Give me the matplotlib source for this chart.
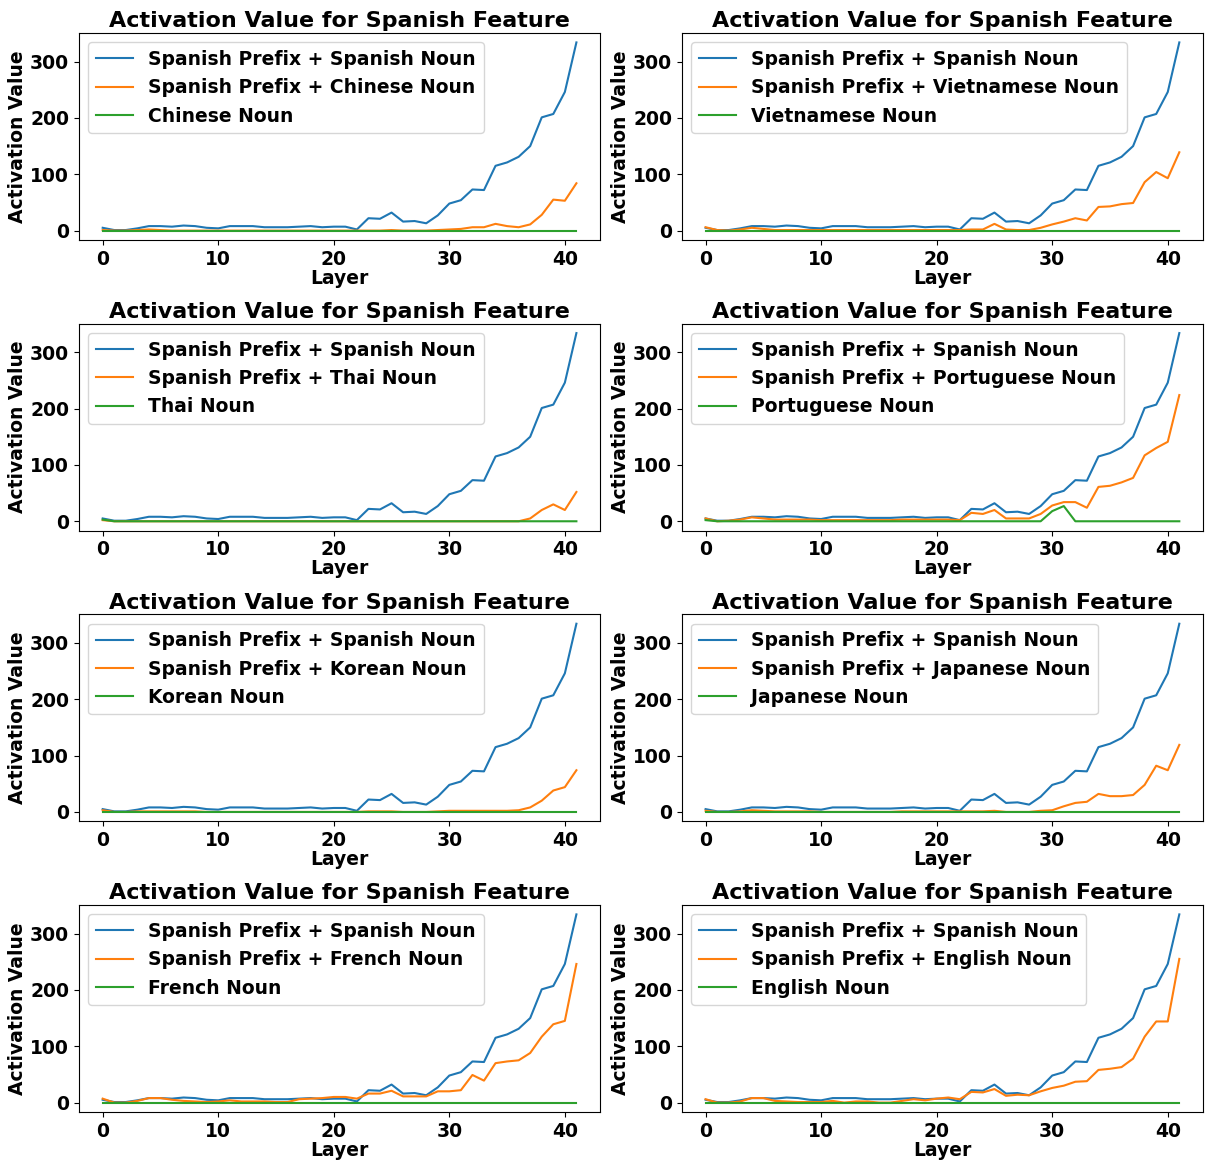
import matplotlib
matplotlib.use("Agg")
import matplotlib.pyplot as plt
import numpy as np

layers = list(range(42))

spanish = [5, 1, 1, 4, 8, 8, 7, 9, 8, 5, 4, 8, 8, 8, 6, 6, 6, 7, 8, 6, 7, 7, 2, 22, 21, 32, 16, 17, 13, 27,
           48, 54, 73, 72, 115, 121, 131, 150, 201, 207, 246, 334]

languages = ["Chinese", "Vietnamese", "Thai", "Portuguese", "Korean", "Japanese", "French", "English"]

mixed_chinese = [1, 0, 0, 1, 2, 1, 0, 0, 0, 0, 0, 0, 0, 0, 0, 0, 0, 0, 0, 0, 0, 0, 0, 0, 0, 1, 0, 0, 0, 1,
                 2, 3, 6, 6, 12, 8, 6, 11, 28, 55, 53, 84]
mixed_vietnamese = [6, 1, 0, 2, 5, 3, 1, 1, 1, 1, 1, 1, 1, 1, 1, 1, 1, 1, 1, 1, 1, 1, 1, 2, 2, 12, 2, 1, 1, 5,
                    11, 16, 22, 18, 42, 43, 47, 49, 86, 104, 93, 139]
mixed_thai = [2, 0, 0, 0, 0, 0, 0, 0, 0, 0, 0, 0, 0, 0, 0, 0, 0, 0, 0, 0, 0, 0, 0, 0, 0, 0, 0, 0, 0, 0,
              0, 0, 0, 0, 0, 0, 0, 5, 20, 30, 20, 52]
mixed_portuguese = [5, 0, 1, 3, 7, 5, 3, 3, 3, 3, 2, 2, 2, 2, 2, 2, 2, 3, 3, 3, 3, 3, 2, 15, 13, 20, 5, 5, 5, 13,
                    28, 34, 34, 24, 61, 63, 69, 77, 117, 130, 141, 224]
mixed_korean = [3, 0, 0, 1, 1, 1, 1, 1, 1, 0, 0, 0, 0, 0, 0, 0, 0, 0, 0, 0, 0, 0, 0, 1, 1, 1, 0, 0, 0, 1,
                2, 2, 2, 2, 2, 2, 3, 8, 20, 38, 44, 74]
mixed_japanese = [2, 0, 0, 1, 3, 2, 1, 1, 1, 1, 0, 0, 0, 0, 0, 0, 0, 1, 1, 1, 1, 1, 1, 1, 1, 2, 0, 0, 0, 2,
                  3, 10, 16, 18, 32, 28, 28, 30, 48, 82, 74, 119]
mixed_french = [7, 0, 0, 3, 8, 8, 5, 3, 2, 1, 2, 4, 2, 2, 2, 1, 1, 6, 7, 8, 10, 10, 7, 16, 16, 21, 11, 11, 11, 20,
                20, 22, 49, 39, 70, 73, 75, 88, 117, 139, 145, 246]
mixed_english = [6, 0, 0, 2, 8, 8, 3, 2, 1, 1, 1, 3, 0, 2, 2, 0, 0, 3, 6, 4, 7, 9, 6, 19, 18, 24, 12, 14, 13, 20,
                 26, 30, 37, 38, 58, 60, 63, 78, 117, 144, 144, 255]

zeros = [0] * 42
noun_portuguese = [2] + [0] * 29 + [18, 27] + [0] * 10
noun_thai = [3] + [0] * 41

mixed = [mixed_chinese, mixed_vietnamese, mixed_thai, mixed_portuguese,
         mixed_korean, mixed_japanese, mixed_french, mixed_english]
nouns = [zeros, zeros, noun_thai, noun_portuguese, zeros, zeros, zeros, zeros]

plt.rcParams['font.weight'] = 'bold'
plt.rcParams['axes.labelweight'] = 'bold'
plt.rcParams['axes.titleweight'] = 'bold'

fig, axes = plt.subplots(4, 2, figsize=(12.05, 11.62), dpi=100)
fig.subplots_adjust(left=79/1205, right=1203/1205, top=1-33/1162, bottom=1-1112/1162,
                    hspace=0.404, wspace=0.157)
for ax, lang, m, n in zip(axes.flat, languages, mixed, nouns):
    ax.plot(layers, spanish, label="Spanish Prefix + Spanish Noun")
    ax.plot(layers, m, label=f"Spanish Prefix + {lang} Noun")
    ax.plot(layers, n, label=f"{lang} Noun")
    ax.set_title("Activation Value for Spanish Feature", fontsize=16, pad=4)
    ax.set_xlabel("Layer", fontsize=13.5, labelpad=0)
    ax.set_ylabel("Activation Value", fontsize=13.5, labelpad=2)
    ax.tick_params(labelsize=13.5)
    ax.set_yticks([0, 100, 200, 300])
    ax.legend(fontsize=13.5, loc="upper left")

plt.savefig("out.png")
